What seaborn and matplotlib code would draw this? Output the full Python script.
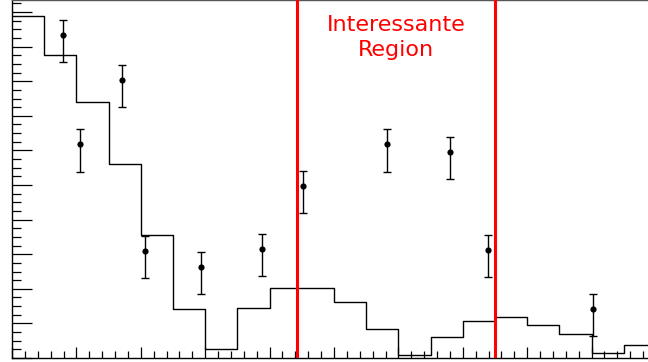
import numpy as np
import pandas as pd
import matplotlib
matplotlib.use("Agg")
import matplotlib.pyplot as plt
import seaborn as sns
from matplotlib.ticker import MultipleLocator

# Expected distribution: one entry per unit-width bin starting at 0
bin_edges = [float(v) for v in range(21)]
expected = [9.89, 8.77, 7.39, 5.61, 3.56, 1.42, 0.26, 1.45, 2.03, 2.03,
            1.63, 0.85, 0.09, 0.60, 1.07, 1.19, 0.96, 0.70, 0.14, 0.38]

# Measured points with asymmetric uncertainties
meas_x = [1.57, 2.12, 3.42, 4.12, 5.88, 7.76, 9.03, 11.64, 13.60, 14.79, 18.04]
meas_y = [9.34, 6.18, 8.03, 3.09, 2.64, 3.16, 4.98, 6.18, 5.95, 3.13, 1.42]
meas_err_lo = [0.79, 0.79, 0.79, 0.79, 0.79, 0.79, 0.79, 0.79, 0.79, 0.79, 0.79]
meas_err_hi = [0.43, 0.43, 0.43, 0.43, 0.43, 0.43, 0.43, 0.43, 0.43, 0.43, 0.43]

# Boundaries of the highlighted window
region_lo, region_hi = 8.86, 15.0
region_label = "Interessante\nRegion"

sns.set_theme(style="white")
plt.rcParams["font.family"] = ["DejaVu Sans"]

fig = plt.figure(figsize=(6.48, 3.62), dpi=100)
ax = fig.add_axes([12 / 648, 4 / 362, 636 / 648, 358 / 362])

hist_df = pd.DataFrame({"x": [e + 0.5 for e in bin_edges[:-1]], "w": expected})
sns.histplot(data=hist_df, x="x", weights="w", bins=bin_edges,
             element="step", fill=False, color="black", linewidth=1.0, ax=ax)

meas_df = pd.DataFrame({"x": meas_x, "y": meas_y,
                        "lo": meas_err_lo, "hi": meas_err_hi})
ax.errorbar(meas_df["x"], meas_df["y"], yerr=[meas_df["lo"], meas_df["hi"]],
            fmt="none", ecolor="black", elinewidth=1.0, capsize=2.6,
            capthick=1.0, zorder=3)
sns.scatterplot(data=meas_df, x="x", y="y", color="black", s=20,
                edgecolor="black", linewidth=0, ax=ax, zorder=4)

for xv in (region_lo, region_hi):
    ax.axvline(xv, color="#ff0000", linewidth=2.2, zorder=5)

ax.text((region_lo + region_hi) / 2, 9.90, region_label, color="#ff0000",
        ha="center", va="top", fontsize=16, linespacing=1.3)

ax.set_xlim(0, 636 / 32.2)
ax.set_ylim(0, 358 / 34.6)
ax.set_xlabel("")
ax.set_ylabel("")

ax.xaxis.set_major_locator(MultipleLocator(2))
ax.xaxis.set_minor_locator(MultipleLocator(0.4))
ax.yaxis.set_major_locator(MultipleLocator(1))
ax.yaxis.set_minor_locator(MultipleLocator(0.25))
ax.tick_params(axis="x", which="major", direction="in", length=8, width=0.9,
               color="black", labelbottom=False, bottom=True)
ax.tick_params(axis="x", which="minor", direction="in", length=4.8, width=0.9,
               color="black", bottom=True)
ax.tick_params(axis="y", which="major", direction="in", length=14.4, width=0.9,
               color="black", labelleft=False, left=True)
ax.tick_params(axis="y", which="minor", direction="in", length=6.7, width=0.9,
               color="black", left=True)

for side in ("left", "bottom"):
    ax.spines[side].set_color("black")
    ax.spines[side].set_linewidth(1.0)
ax.spines["top"].set_color("#555555")
ax.spines["top"].set_linewidth(1.0)
ax.spines["right"].set_visible(False)

fig.savefig("out.png", dpi=100)
